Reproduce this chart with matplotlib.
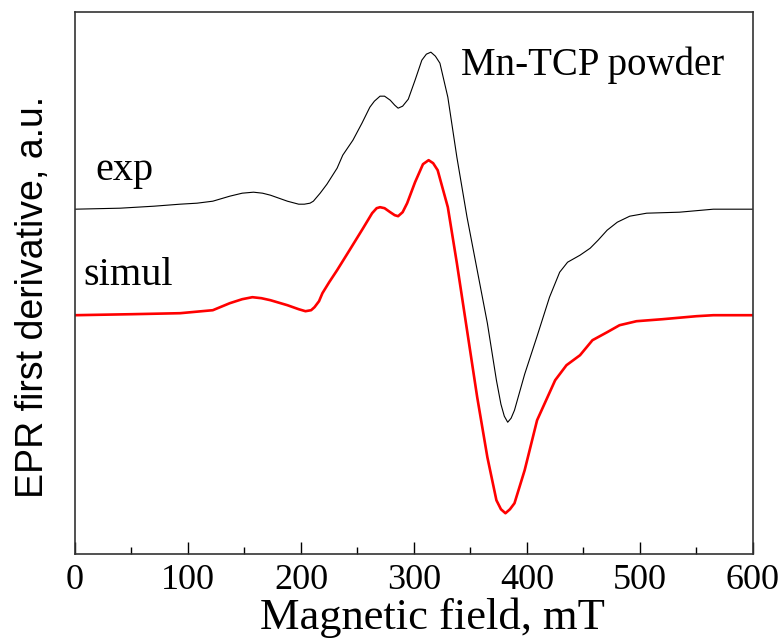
import matplotlib.pyplot as plt
from matplotlib.ticker import MultipleLocator

# field positions (mT) and signal (arbitrary units)
EXP_FIELD = [0, 40, 70, 93, 108, 122, 137, 148, 158, 166, 173, 188, 198, 203,
             208, 211, 214, 217, 223, 232, 237, 246, 254, 261, 265, 270, 274,
             279, 283, 286, 290, 295, 301, 307, 311, 315, 319, 323, 330, 338,
             347, 356, 365, 373, 377, 380, 383, 386, 389, 393, 398, 409, 420,
             429, 436, 447, 456, 463, 471, 480, 491, 506, 535, 565, 600]
EXP_SIGNAL = [345, 346, 348, 350, 351, 353, 358, 361, 362, 361, 359, 353, 350, 350,
              351, 353, 357, 361, 370, 386, 399, 414, 431, 447, 453, 458, 458,
              454, 449, 446, 448, 455, 474, 494, 500, 502, 498, 491, 457, 397,
              337, 284, 231, 174, 150, 138, 132, 136, 144, 160, 180, 218, 257,
              282, 292, 299, 306, 314, 324, 332, 338, 341, 342, 345, 345]

SIM_FIELD = [0, 50, 93, 122, 137, 148, 157, 165, 173, 188, 198, 204, 209, 212,
             216, 219, 225, 232, 243, 255, 263, 267, 270, 274, 279, 283, 286,
             290, 294, 301, 308, 313, 317, 321, 330, 338, 347, 356, 365, 373,
             377, 381, 385, 389, 398, 409, 425, 435, 447, 458, 471, 482, 497,
             520, 550, 565, 600]
SIM_SIGNAL = [239, 240, 241, 244, 251, 255, 257, 256, 254, 249, 245, 243, 244, 247,
              253, 261, 272, 284, 304, 326, 341, 346, 347, 346, 342, 339, 338,
              342, 351, 372, 390, 394, 391, 384, 347, 291, 224, 157, 97, 54,
              45, 41, 45, 51, 84, 134, 174, 189, 199, 214, 222, 229, 233,
              235, 238, 239, 239]

XTICKS = [0, 100, 200, 300, 400, 500, 600]

SERIF = "Liberation Serif"
SANS = "Liberation Sans"


def main():
    fig = plt.figure(figsize=(7.81, 6.4), dpi=100)
    ax = fig.add_axes([0.096, 0.134, 0.868, 0.847])

    ax.plot(EXP_FIELD, EXP_SIGNAL, color="black", lw=0.8)
    ax.plot(SIM_FIELD, SIM_SIGNAL, color="#ff0000", lw=1.9)

    ax.text(18, 374, "exp", fontsize=29, family=SERIF)
    ax.text(7, 269, "simul", fontsize=29, family=SERIF)
    ax.text(342, 479, "Mn-TCP powder", fontsize=28, family=SERIF)

    ax.set_xlim(0, 600)
    ax.set_ylim(0, 542)
    ax.set_xticks(XTICKS)
    ax.xaxis.set_minor_locator(MultipleLocator(50))
    ax.set_yticks([])
    ax.tick_params(axis="x", which="major", direction="in", length=9, width=1,
                   pad=7, labelsize=26)
    ax.tick_params(axis="x", which="minor", direction="in", length=5, width=1)
    for lab in ax.get_xticklabels():
        lab.set_family(SERIF)

    for sp in ax.spines.values():
        sp.set_color("#333333")
        sp.set_linewidth(1.2)

    ax.set_xlabel("Magnetic field, mT", fontsize=32, family=SERIF)
    ax.set_ylabel("EPR first derivative, a.u.", fontsize=27, family=SANS)
    ax.xaxis.set_label_coords(0.528, -0.08)
    ax.yaxis.set_label_coords(-0.036, 0.474)

    fig.savefig("out.png", dpi=100)
    plt.close(fig)


if __name__ == "__main__":
    main()
